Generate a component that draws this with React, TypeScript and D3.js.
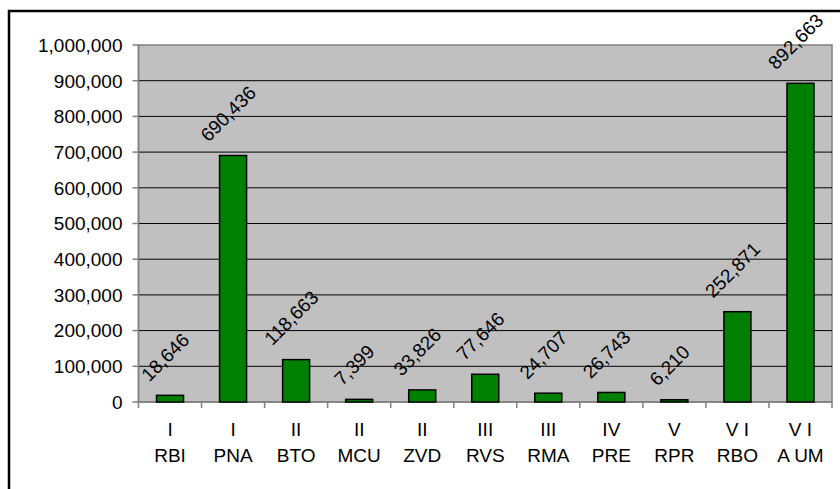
import React from "react";
import * as d3 from "d3";

const numerals = ["I", "I", "II", "II", "II", "III", "III", "IV", "V", "V I", "V I"];
const codes = ["RBI", "PNA", "BTO", "MCU", "ZVD", "RVS", "RMA", "PRE", "RPR", "RBO", "A UM"];
const values = [18646, 690436, 118663, 7399, 33826, 77646, 24707, 26743, 6210, 252871, 892663];
const yTicks = [0, 100000, 200000, 300000, 400000, 500000, 600000, 700000, 800000, 900000, 1000000];

const W = 840;
const H = 489;
const plot = { left: 138.5, right: 832, top: 45, bottom: 402 };
const font = "'Liberation Sans', Arial, sans-serif";
const fs = 19;

const fmt = d3.format(",");

// rough Arial advance widths, used to place the rotated labels
const textWidth = (s: string) =>
  s.split("").reduce((w, c) => w + (c === "," ? 0.278 : 0.556), 0) * fs;

export default function App() {
  const keys = codes.map((c, i) => i);
  const x = d3
    .scaleBand<number>()
    .domain(keys)
    .range([plot.left, plot.right])
    .paddingInner(0)
    .paddingOuter(0);
  const y = d3.scaleLinear().domain([0, 1000000]).range([plot.bottom, plot.top]);
  const bw = 27;

  return (
    <svg
      width={W}
      height={H}
      style={{ position: "absolute", left: 0, top: 0, background: "#fff" }}
      fontFamily={font}
    >
      <rect x={9} y={11} width={W} height={H} fill="#fff" stroke="#000" strokeWidth={2.5} />
      <rect
        x={plot.left}
        y={plot.top}
        width={plot.right - plot.left}
        height={plot.bottom - plot.top}
        fill="#c0c0c0"
        stroke="#808080"
        strokeWidth={1.5}
      />
      {yTicks.slice(1, -1).map(t => (
        <line key={t} x1={plot.left} x2={plot.right} y1={y(t)} y2={y(t)} stroke="#000" strokeWidth={1} />
      ))}
      {/* axes */}
      <line x1={plot.left} x2={plot.left} y1={plot.top} y2={plot.bottom} stroke="#808080" strokeWidth={1.5} />
      <line x1={plot.left} x2={plot.right} y1={plot.bottom} y2={plot.bottom} stroke="#808080" strokeWidth={1.5} />
      {yTicks.map(t => (
        <g key={t}>
          <line x1={plot.left - 6} x2={plot.left} y1={y(t)} y2={y(t)} stroke="#808080" strokeWidth={1.5} />
          <text x={plot.left - 16} y={y(t)} dy="0.36em" textAnchor="end" fontSize={fs} fill="#000">
            {fmt(t)}
          </text>
        </g>
      ))}
      {keys.concat([keys.length]).map(i => {
        const xx = i < keys.length ? (x(i) as number) : plot.right;
        return (
          <line key={i} x1={xx} x2={xx} y1={plot.bottom} y2={plot.bottom + 6} stroke="#808080" strokeWidth={1.5} />
        );
      })}
      {values.map((v, i) => {
        const cx = (x(i) as number) + x.bandwidth() / 2;
        const top = y(v);
        const label = fmt(v);
        const box = (textWidth(label) + fs) / Math.SQRT2;
        const ly = top - 11 - box / 2;
        const lx = cx - 5;
        return (
          <g key={i}>
            <rect
              x={cx - bw / 2}
              y={top}
              width={bw}
              height={plot.bottom - top}
              fill="#008000"
              stroke="#000"
              strokeWidth={1.5}
            />
            <text
              transform={`translate(${lx},${ly}) rotate(-45)`}
              textAnchor="middle"
              dy="0.36em"
              fontSize={fs}
              fill="#000"
            >
              {label}
            </text>
            <text x={cx} y={436} textAnchor="middle" fontSize={fs} fill="#000">
              {numerals[i]}
            </text>
            <text x={cx} y={462} textAnchor="middle" fontSize={fs} fill="#000">
              {codes[i]}
            </text>
          </g>
        );
      })}
    </svg>
  );
}
